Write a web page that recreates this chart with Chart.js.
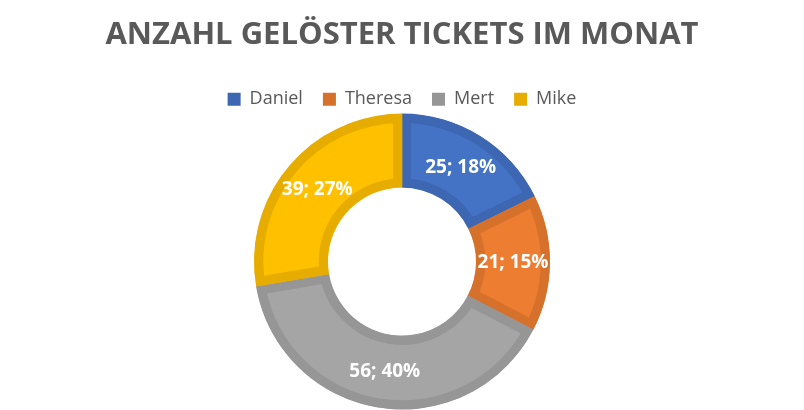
<!DOCTYPE html>
<html>
<head>
<meta charset="utf-8">
<script src="https://cdn.jsdelivr.net/npm/chart.js@4/dist/chart.umd.min.js"></script>
<style>
  html, body { margin: 0; padding: 0; background: #fff; }
  #wrap { width: 804px; height: 410px; position: relative; }
</style>
</head>
<body>
<div id="wrap"><canvas id="ticketChart"></canvas></div>
<script>
// --- Daten ---
const names = ['Daniel', 'Theresa', 'Mert', 'Mike'];
const tickets = [25, 21, 56, 39];
const percentLabels = ['18%', '15%', '40%', '27%'];

const fillColors = ['#4472C4', '#ED7D31', '#A5A5A5', '#FFC000'];
const edgeColors = ['#3D67B2', '#D6712C', '#969696', '#E6AD00'];

// Datenbeschriftungen in der Mitte des Rings
const sliceLabels = {
    id: 'sliceLabels',
    afterDatasetsDraw(chart) {
        const ctx = chart.ctx;
        const meta = chart.getDatasetMeta(0);
        ctx.save();
        ctx.font = 'bold 19px "Open Sans"';
        ctx.fillStyle = '#ffffff';
        ctx.textAlign = 'center';
        ctx.textBaseline = 'middle';
        meta.data.forEach((arc, i) => {
            const p = arc.getCenterPoint();
            ctx.fillText(`${tickets[i]}; ${percentLabels[i]}`, p.x, p.y);
        });
        ctx.restore();
    }
};

new Chart(document.getElementById('ticketChart'), {
    type: 'doughnut',
    data: {
        labels: names,
        datasets: [{
            data: tickets,
            backgroundColor: fillColors,
            borderColor: edgeColors,
            borderWidth: 9,
            borderAlign: 'inner'
        }]
    },
    options: {
        responsive: true,
        maintainAspectRatio: false,
        animation: false,
        cutout: '50%',
        radius: 148,
        layout: { padding: { bottom: 5 } },
        plugins: {
            title: {
                display: true,
                text: 'ANZAHL GELÖSTER TICKETS IM MONAT',
                color: '#595959',
                font: { family: '"Open Sans"', size: 31, weight: 'bold' },
                padding: { top: 17, bottom: 16 }
            },
            legend: {
                position: 'top',
                labels: {
                    color: '#595959',
                    font: { family: '"Open Sans"', size: 18 },
                    boxWidth: 13,
                    boxHeight: 13,
                    padding: 20,
                    generateLabels: chart => names.map((n, i) => ({
                        text: n,
                        fillStyle: edgeColors[i],
                        strokeStyle: edgeColors[i],
                        lineWidth: 0,
                        fontColor: '#595959',
                        hidden: false,
                        index: i
                    }))
                }
            },
            tooltip: { enabled: false }
        }
    },
    plugins: [sliceLabels]
});
</script>
</body>
</html>
